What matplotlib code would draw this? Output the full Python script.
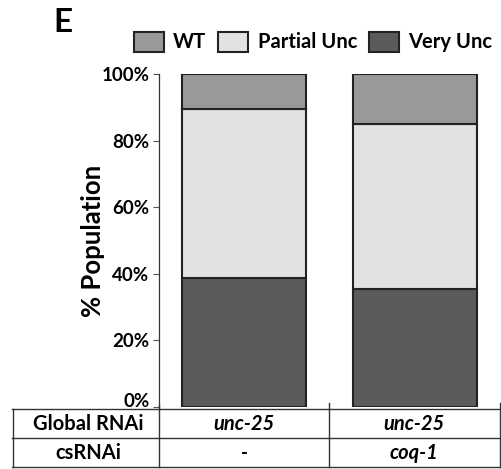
import matplotlib.pyplot as plt
from matplotlib.patches import Patch
from matplotlib.ticker import PercentFormatter
from matplotlib.transforms import ScaledTranslation

plt.rcParams["font.family"] = ["Lato", "DejaVu Sans"]
plt.rcParams["font.weight"] = "bold"

categories = ["unc-25 / -", "unc-25 / coq-1"]
very_unc = [38.7, 35.4]
partial_unc = [50.8, 49.6]
wt = [10.5, 15.0]
series_names = ["WT", "Partial Unc", "Very Unc"]
colors = {"WT": "#98999b", "Partial Unc": "#e1e2e4", "Very Unc": "#5a5b5d"}

row_labels = ["Global RNAi", "csRNAi"]
global_rnai = ["unc-25", "unc-25"]
cs_rnai = ["-", "coq-1"]

W, H = 501, 469
fig = plt.figure(figsize=(W / 100, H / 100), dpi=100)
ax = fig.add_axes([159 / W, (H - 407) / H, 341 / W, 333 / H])

x = range(len(categories))
edge = "#222222"
ax.bar(x, very_unc, width=0.727, color=colors["Very Unc"], edgecolor=edge, linewidth=1.5)
ax.bar(x, partial_unc, width=0.727, bottom=very_unc, color=colors["Partial Unc"],
       edgecolor=edge, linewidth=1.5)
bottoms = [a + b for a, b in zip(very_unc, partial_unc)]
ax.bar(x, wt, width=0.727, bottom=bottoms, color=colors["WT"], edgecolor=edge, linewidth=1.5)

ax.set_xlim(-0.5, 1.5)
ax.set_ylim(0, 100)
ax.yaxis.set_major_formatter(PercentFormatter(decimals=0))
ax.set_yticks(range(0, 101, 20))
ax.tick_params(axis="y", length=4, width=0.8, color="#555555", labelsize=13.5, pad=3)
ax.set_xticks([])
for s in ["top", "right", "bottom"]:
    ax.spines[s].set_visible(False)
ax.spines["left"].set_color("#333333")
ax.spines["left"].set_linewidth(0.9)
ax.spines["left"].set_bounds(-0.6, 100)
ax.set_ylabel("% Population", fontsize=18.5, fontweight="bold", labelpad=-3)
labels = ax.get_yticklabels()
for lab in labels:
    lab.set_fontweight("bold")
# 0% label sits just above the table line
labels[0].set_transform(labels[0].get_transform()
                        + ScaledTranslation(0, 7 / 100, fig.dpi_scale_trans))

# table below the axes
tab = fig.add_axes([12 / W, 2 / H, 488 / W, 58 / H])
tab.set_xlim(12, 500)
tab.set_ylim(467, 409)
tab.axis("off")
lw = 1.0
lc = "#333333"
tab.plot([12, 500], [409, 409], color=lc, lw=lw, clip_on=False)
tab.plot([12, 500], [438, 438], color=lc, lw=lw, clip_on=False)
tab.plot([12, 500], [466.5, 466.5], color=lc, lw=lw, clip_on=False)
for xc, ytop in [(12.5, 409), (159, 405), (329, 403), (499.5, 403)]:
    tab.plot([xc, xc], [ytop, 466.5], color=lc, lw=lw, clip_on=False)

col_centers = [244, 414]
for i, (lab, row) in enumerate(zip(row_labels, [global_rnai, cs_rnai])):
    yc = 423.5 + i * 29
    tab.text(88, yc, lab, ha="center", va="center", fontsize=14.5, fontweight="bold")
    for xc, val in zip(col_centers, row):
        tab.text(xc, yc, val, ha="center", va="center", fontsize=14.5,
                 fontweight="bold", style="italic")

handles = [Patch(facecolor=colors[n], edgecolor=edge, linewidth=1.5, label=n)
           for n in series_names]
fig.legend(handles=handles, loc="center", bbox_to_anchor=(313 / W, (H - 42) / H),
           ncol=3, frameon=False, fontsize=14.5, handlelength=1.5, handleheight=1.15,
           handletextpad=0.45, columnspacing=0.6, borderpad=0)

fig.text(53 / W, (H - 23) / H, "E", fontsize=24, fontweight="bold", va="center", ha="left")

fig.savefig("out.png", dpi=100)
